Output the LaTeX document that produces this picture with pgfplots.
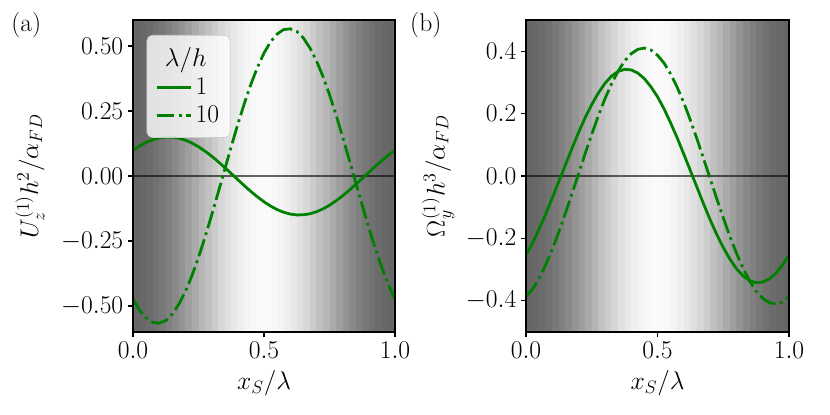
\RequirePackage{fix-cm}
\documentclass[border=0pt]{standalone}
\usepackage{pgfplots}
\pgfplotsset{compat=1.18}
\definecolor{mplgreen}{rgb}{0,0.5,0}
\newcommand{\bigf}{\fontsize{18.5}{22}\selectfont}
\newcommand{\bgstripes}{%
\addplot[draw=none,fill=white!40.1!black,forget plot] coordinates {(0,-1)(0,1)(1,1)(1,-1)};
\addplot[draw=none,fill=white!40.8!black,forget plot] coordinates {(0.025,-1)(0.025,1)(0.975,1)(0.975,-1)};
\addplot[draw=none,fill=white!42.2!black,forget plot] coordinates {(0.05,-1)(0.05,1)(0.95,1)(0.95,-1)};
\addplot[draw=none,fill=white!44.3!black,forget plot] coordinates {(0.075,-1)(0.075,1)(0.925,1)(0.925,-1)};
\addplot[draw=none,fill=white!46.9!black,forget plot] coordinates {(0.1,-1)(0.1,1)(0.9,1)(0.9,-1)};
\addplot[draw=none,fill=white!50.2!black,forget plot] coordinates {(0.125,-1)(0.125,1)(0.875,1)(0.875,-1)};
\addplot[draw=none,fill=white!53.8!black,forget plot] coordinates {(0.15,-1)(0.15,1)(0.85,1)(0.85,-1)};
\addplot[draw=none,fill=white!57.9!black,forget plot] coordinates {(0.175,-1)(0.175,1)(0.825,1)(0.825,-1)};
\addplot[draw=none,fill=white!62.2!black,forget plot] coordinates {(0.2,-1)(0.2,1)(0.8,1)(0.8,-1)};
\addplot[draw=none,fill=white!66.7!black,forget plot] coordinates {(0.225,-1)(0.225,1)(0.775,1)(0.775,-1)};
\addplot[draw=none,fill=white!71.3!black,forget plot] coordinates {(0.25,-1)(0.25,1)(0.75,1)(0.75,-1)};
\addplot[draw=none,fill=white!75.8!black,forget plot] coordinates {(0.275,-1)(0.275,1)(0.725,1)(0.725,-1)};
\addplot[draw=none,fill=white!80.1!black,forget plot] coordinates {(0.3,-1)(0.3,1)(0.7,1)(0.7,-1)};
\addplot[draw=none,fill=white!84.2!black,forget plot] coordinates {(0.325,-1)(0.325,1)(0.675,1)(0.675,-1)};
\addplot[draw=none,fill=white!87.8!black,forget plot] coordinates {(0.35,-1)(0.35,1)(0.65,1)(0.65,-1)};
\addplot[draw=none,fill=white!91.1!black,forget plot] coordinates {(0.375,-1)(0.375,1)(0.625,1)(0.625,-1)};
\addplot[draw=none,fill=white!93.7!black,forget plot] coordinates {(0.4,-1)(0.4,1)(0.6,1)(0.6,-1)};
\addplot[draw=none,fill=white!95.8!black,forget plot] coordinates {(0.425,-1)(0.425,1)(0.575,1)(0.575,-1)};
\addplot[draw=none,fill=white!97.2!black,forget plot] coordinates {(0.45,-1)(0.45,1)(0.55,1)(0.55,-1)};
\addplot[draw=none,fill=white!97.9!black,forget plot] coordinates {(0.475,-1)(0.475,1)(0.525,1)(0.525,-1)};
\addplot[black,opacity=0.6,line width=0.8bp,forget plot] coordinates {(0,0)(1,0)};
}
\pgfplotsset{
  mystyle/.style={
    scale only axis, height=224.64bp,
    xmin=0, xmax=1, xtick={0,0.5,1},
    axis on top, axis line style={line width=0.8bp},
    tick align=outside, xtick pos=bottom, ytick pos=left,
    major tick length=3.5bp, tick style={black,line width=0.8bp},
    tick label style={font=\bigf},
    label style={font=\bigf},
    xticklabel style={/pgf/number format/fixed,/pgf/number format/fixed zerofill,/pgf/number format/precision=1},
    xlabel style={at={(rel axis cs:0.5,-0.163)},anchor=center},
    anchor=south west,
  },
  solidg/.style={mplgreen,line width=2bp},
  dashg/.style={mplgreen,line width=2bp,dash pattern=on 12.8bp off 3.2bp on 2bp off 3.2bp},
}
\begin{document}
\begin{tikzpicture}
\useasboundingbox (0,0) rectangle (597.6bp,298.8bp);
\node[font=\bigf] at (18.9bp,281bp) {(a)};
\node[font=\bigf] at (306.6bp,281bp) {(b)};
\begin{axis}[mystyle, at={(95.76bp,59.76bp)}, width=188.64bp,
  ymin=-0.6, ymax=0.6, ytick={-0.5,-0.25,0,0.25,0.5},
  yticklabel style={/pgf/number format/fixed,/pgf/number format/fixed zerofill,/pgf/number format/precision=2},
  xlabel={$x_S/\lambda$}, ylabel={$U_z^{(1)}h^2/\alpha_{FD}$},
  ylabel style={at={(rel axis cs:-0.393,0.5)},anchor=center},
  legend style={at={(rel axis cs:0.052,0.952)},anchor=north west,
    fill=white,fill opacity=0.8,text opacity=1,draw=black!20,draw opacity=1,
    rounded corners=4bp,font=\bigf,inner xsep=6bp,inner ysep=7bp,row sep=2.5bp},
  legend cell align=left,
  legend image code/.code={\draw[#1,line width=2bp] (0bp,0bp) -- (21.6bp,0bp); \path (0bp,0bp) -- (25bp,0bp);},
]
\bgstripes
\addlegendimage{empty legend}
\addlegendentry{\hspace*{-22bp}$\lambda/h$}
\addplot[solidg] coordinates {
(0,0.0992)(0.025,0.1156)(0.05,0.1291)(0.075,0.1395)(0.1,0.1464)(0.125,0.1497)
(0.15,0.1493)(0.175,0.1453)(0.2,0.1377)(0.225,0.1266)(0.25,0.1125)(0.275,0.0956)
(0.3,0.0763)(0.325,0.0552)(0.35,0.0327)(0.375,0.0094)(0.4,-0.0141)(0.425,-0.0373)
(0.45,-0.0596)(0.475,-0.0804)(0.5,-0.0992)(0.525,-0.1156)(0.55,-0.1291)(0.575,-0.1395)
(0.6,-0.1464)(0.625,-0.1497)(0.65,-0.1493)(0.675,-0.1453)(0.7,-0.1377)(0.725,-0.1266)
(0.75,-0.1125)(0.775,-0.0956)(0.8,-0.0763)(0.825,-0.0552)(0.85,-0.0327)(0.875,-0.0094)
(0.9,0.0141)(0.925,0.0373)(0.95,0.0596)(0.975,0.0804)(1,0.0992)};
\addlegendentry{1}
\addplot[dashg] coordinates {
(0,-0.473)(0.025,-0.516)(0.05,-0.546)(0.075,-0.563)(0.1,-0.566)(0.125,-0.556)
(0.15,-0.531)(0.175,-0.493)(0.2,-0.444)(0.225,-0.383)(0.25,-0.313)(0.275,-0.235)
(0.3,-0.151)(0.325,-0.064)(0.35,0.025)(0.375,0.113)(0.4,0.199)(0.425,0.279)
(0.45,0.353)(0.475,0.418)(0.5,0.473)(0.525,0.516)(0.55,0.546)(0.575,0.563)
(0.6,0.566)(0.625,0.556)(0.65,0.531)(0.675,0.493)(0.7,0.444)(0.725,0.383)
(0.75,0.313)(0.775,0.235)(0.8,0.151)(0.825,0.064)(0.85,-0.025)(0.875,-0.113)
(0.9,-0.199)(0.925,-0.279)(0.95,-0.353)(0.975,-0.418)(1,-0.473)};
\addlegendentry{10}
\end{axis}
\begin{axis}[mystyle, at={(378.72bp,59.76bp)}, width=189.36bp,
  ymin=-0.5, ymax=0.5, ytick={-0.4,-0.2,0,0.2,0.4},
  yticklabel style={/pgf/number format/fixed,/pgf/number format/fixed zerofill,/pgf/number format/precision=1},
  xlabel={$x_S/\lambda$}, ylabel={$\Omega_y^{(1)}h^3/\alpha_{FD}$},
  ylabel style={at={(rel axis cs:-0.334,0.5)},anchor=center},
]
\bgstripes
\addplot[solidg] coordinates {
(0,-0.254)(0.025,-0.215)(0.05,-0.170)(0.075,-0.122)(0.1,-0.070)(0.125,-0.017)
(0.15,0.036)(0.175,0.089)(0.2,0.140)(0.225,0.187)(0.25,0.229)(0.275,0.266)
(0.3,0.297)(0.325,0.320)(0.35,0.335)(0.375,0.342)(0.4,0.340)(0.425,0.330)
(0.45,0.312)(0.475,0.286)(0.5,0.254)(0.525,0.215)(0.55,0.170)(0.575,0.122)
(0.6,0.070)(0.625,0.017)(0.65,-0.036)(0.675,-0.089)(0.7,-0.140)(0.725,-0.187)
(0.75,-0.229)(0.775,-0.266)(0.8,-0.297)(0.825,-0.320)(0.85,-0.335)(0.875,-0.342)
(0.9,-0.340)(0.925,-0.330)(0.95,-0.312)(0.975,-0.286)(1,-0.254)};
\addplot[dashg] coordinates {
(0,-0.387)(0.025,-0.362)(0.05,-0.328)(0.075,-0.284)(0.1,-0.235)(0.125,-0.179)
(0.15,-0.119)(0.175,-0.056)(0.2,0.008)(0.225,0.072)(0.25,0.134)(0.275,0.193)
(0.3,0.247)(0.325,0.295)(0.35,0.336)(0.375,0.369)(0.4,0.392)(0.425,0.406)
(0.45,0.410)(0.475,0.404)(0.5,0.387)(0.525,0.362)(0.55,0.327)(0.575,0.284)
(0.6,0.235)(0.625,0.179)(0.65,0.119)(0.675,0.056)(0.7,-0.008)(0.725,-0.072)
(0.75,-0.134)(0.775,-0.193)(0.8,-0.247)(0.825,-0.295)(0.85,-0.336)(0.875,-0.369)
(0.9,-0.392)(0.925,-0.406)(0.95,-0.410)(0.975,-0.404)(1,-0.387)};
\end{axis}
\end{tikzpicture}
\end{document}
